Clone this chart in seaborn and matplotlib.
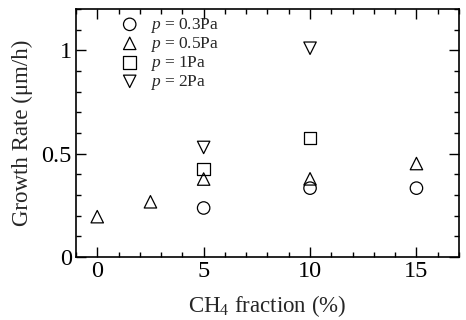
import matplotlib
matplotlib.use("Agg")
import matplotlib.pyplot as plt
import seaborn as sns
import pandas as pd
from matplotlib.ticker import MultipleLocator, FuncFormatter

# data
x_03 = [5, 10, 15]
y_03 = [0.237, 0.333, 0.333]
x_05 = [0, 2.5, 5, 10, 15]
y_05 = [0.195, 0.267, 0.377, 0.378, 0.452]
x_1 = [5, 10]
y_1 = [0.425, 0.575]
x_2 = [5, 10]
y_2 = [0.53, 1.01]
labels = ["$p$ = 0.3Pa", "$p$ = 0.5Pa", "$p$ = 1Pa", "$p$ = 2Pa"]
markers = ["o", "^", "s", "v"]

sns.set_style("ticks")
plt.rcParams["font.family"] = ["Liberation Serif", "DejaVu Serif"]
plt.rcParams["mathtext.fontset"] = "custom"
plt.rcParams["mathtext.rm"] = "Liberation Serif"
plt.rcParams["mathtext.it"] = "Liberation Serif:italic"

fig = plt.figure(figsize=(4.66, 3.2), dpi=100)
ax = fig.add_axes([0.163, 0.197, 0.822, 0.775])

series = [(x_03, y_03), (x_05, y_05), (x_1, y_1), (x_2, y_2)]
for (xs, ys), lab, m in zip(series, labels, markers):
    df = pd.DataFrame({"x": xs, "y": ys})
    sns.scatterplot(data=df, x="x", y="y", marker=m, s=80, facecolor="none",
                    edgecolor="black", linewidth=0.9, label=lab, ax=ax)

ax.set_xlim(-1, 17)
ax.set_ylim(0, 1.2)
ax.xaxis.set_major_locator(MultipleLocator(5))
ax.xaxis.set_minor_locator(MultipleLocator(1))
ax.yaxis.set_major_locator(MultipleLocator(0.5))
ax.yaxis.set_minor_locator(MultipleLocator(0.1))
ax.yaxis.set_major_formatter(FuncFormatter(lambda v, p: f"{v:g}"))
ax.tick_params(which="both", direction="in", top=True, right=True, width=1.0,
               labelsize=17.5, colors="black")
ax.tick_params(which="major", length=7, pad=3)
ax.tick_params(which="minor", length=3.5)
for sp in ax.spines.values():
    sp.set_linewidth(1.2)
    sp.set_color("black")

ax.set_xlabel("CH$_4$ fraction (%)", fontsize=16.5, labelpad=8)
ax.set_ylabel("Growth Rate (μm/h)", fontsize=16.5, labelpad=6)

leg = ax.legend(loc="upper left", bbox_to_anchor=(0.095, 1.0), frameon=False,
                fontsize=12.5, handletextpad=0.55, handlelength=1.2,
                labelspacing=0.0, borderaxespad=0.0)

fig.savefig("out.png", dpi=100)
